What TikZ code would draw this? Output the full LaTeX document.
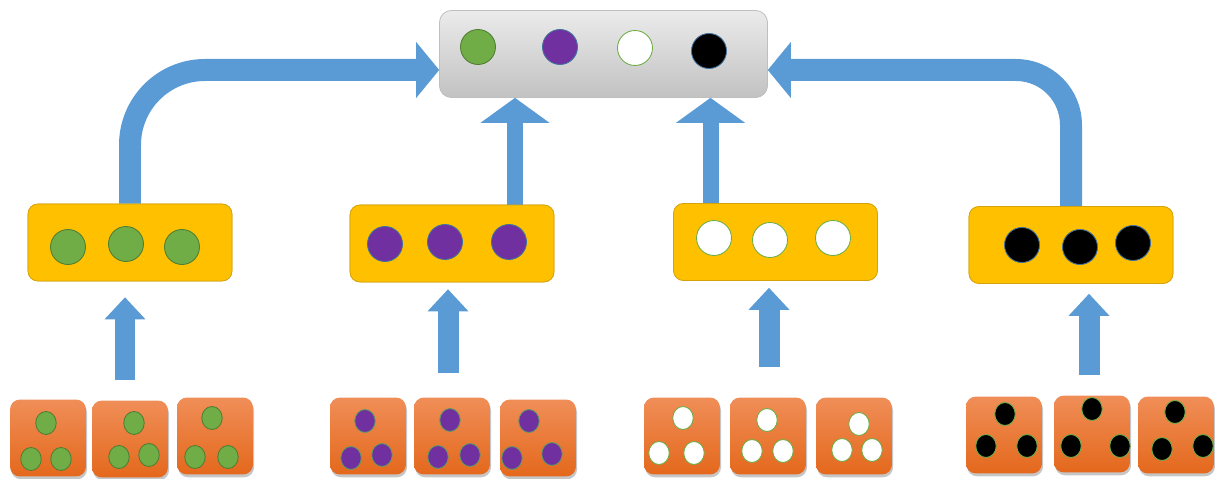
\documentclass[tikz,border=0pt]{standalone}
\usepackage{xcolor}
\usetikzlibrary{calc,arrows.meta,shapes.geometric,shadows}

\definecolor{arrowblue}{HTML}{5B9BD5}
\definecolor{boxyellow}{HTML}{FFC000}
\definecolor{yellowedge}{HTML}{D4A20B}
\definecolor{dotgreen}{HTML}{70AD47}
\definecolor{greenedge}{HTML}{507E32}
\definecolor{dotpurple}{HTML}{7030A0}
\definecolor{blueedge}{HTML}{41719C}
\definecolor{tiletop}{RGB}{240,142,88}
\definecolor{tilebot}{RGB}{228,104,28}
\definecolor{hubtop}{HTML}{EBEBEB}
\definecolor{hubbot}{HTML}{C2C2C2}
\definecolor{hubedge}{HTML}{BFBFBF}

\begin{document}
\begin{tikzpicture}[x = 0.02cm, y = -0.02cm,
hub/.style = {draw = hubedge, top color = hubtop, bottom color = hubbot, rounded corners = 0.24cm, minimum width = 6.56cm, minimum height = 1.74cm, inner sep = 0pt},
bar/.style = {draw = yellowedge, fill = boxyellow, rounded corners = 0.2cm, minimum width = 4.08cm, minimum height = 1.54cm, inner sep = 0pt},
tile/.style = {top color = tiletop, bottom color = tilebot, rounded corners = 0.2cm, minimum width = 1.52cm, minimum height = 1.54cm, inner sep = 0pt, drop shadow = {shadow xshift = 0.6pt, shadow yshift = -1.6pt, opacity = 0.45}},
ball/.style = {circle, minimum size = 0.7cm, inner sep = 0pt, line width = 0.5pt},
pip/.style = {ellipse, minimum width = 0.41cm, minimum height = 0.46cm, inner sep = 0pt, line width = 0.5pt},
feed/.style = {arrowblue, line width = 0.42cm, -{Triangle[length = 0.44cm, width = 0.82cm, line width = 0pt]}},
lift/.style = {arrowblue, line width = 0.32cm, -{Triangle[length = 0.5cm, width = 1.38cm, line width = 0pt]}},
sweep/.style = {arrowblue, line width = 0.44cm, -{Triangle[length = 0.46cm, width = 1.12cm, line width = 0pt]}}
]
\useasboundingbox (0,0) rectangle (1215,479);

% arrows first, boxes on top
\node[hub] (hub) at (603.5,54) {};
\node[bar] (g1) at (130,242.5) {};
\node[bar] (g2) at (452,243.5) {};
\node[bar] (g3) at (775.5,242) {};
\node[bar] (g4) at (1071,245) {};

\draw[sweep, rounded corners = 1.5cm] (g1.north) |- (hub.west |- 0,70);
\draw[sweep, rounded corners = 1.1cm] (g4.north) |- (hub.east |- 0,70);
\coordinate (l2) at ($(g2.north)+(63,0)$);
\coordinate (l3) at ($(g3.north)+(-65,0)$);
\foreach \l in {l2, l3}{\draw[lift] (\l) -- (\l |- hub.south);}

\node[hub] at (hub) {};
\foreach \n/\x/\y/\c/\e in {hg/478/47/dotgreen/greenedge, hp/560/47/dotpurple/blueedge, hw/635/48/white/dotgreen, hk/709/51/black/blueedge}{\node[ball, fill = \c, draw = \e] (\n) at (\x,\y) {};}

\foreach \g in {g1, g2, g3, g4}{\node[bar] at (\g) {};}
\foreach \n/\x/\y in {g1a/68/247, g1b/126/244, g1c/182/247}{\node[ball, fill = dotgreen, draw = greenedge] (\n) at (\x,\y) {};}
\foreach \n/\x/\y in {g2a/385/244, g2b/445/242, g2c/509/242}{\node[ball, fill = dotpurple, draw = blueedge] (\n) at (\x,\y) {};}
\foreach \n/\x/\y in {g3a/714/238, g3b/770/240, g3c/833/238}{\node[ball, fill = white, draw = dotgreen] (\n) at (\x,\y) {};}
\foreach \n/\x/\y in {g4a/1022/245, g4b/1080/247, g4c/1133/243}{\node[ball, fill = black, draw = blueedge] (\n) at (\x,\y) {};}

\foreach \n/\x/\y in {gt1/48/438, gt2/130/439, gt3/215/436, pt1/368/436, pt2/452/436, pt3/538/438, wt1/682/436, wt2/768/436, wt3/854/436, kt1/1004/435, kt2/1092/434, kt3/1176/435}{\node[tile] (\n) at (\x,\y) {};}

\foreach \x/\y [count = \i] in {46/423, 31/459, 61/459, 134/423, 119/457, 149/455, 212/418, 195/457, 228/457}{\node[pip, fill = dotgreen, draw = greenedge] (gp\i) at (\x,\y) {};}
\foreach \x/\y [count = \i] in {365/421, 351/458, 382/455, 450/420, 438/457, 470/455, 529/421, 512/458, 552/454}{\node[pip, fill = dotpurple, draw = dotgreen!70!blueedge] (pp\i) at (\x,\y) {};}
\foreach \x/\y [count = \i] in {683/418, 659/453, 694/453, 767/420, 752/451, 783/451, 859/424, 842/450, 872/450}{\node[pip, fill = white, draw = dotgreen] (wp\i) at (\x,\y) {};}
\foreach \x/\y [count = \i] in {1005/414, 986/446, 1027/446, 1092/409, 1071/446, 1120/446, 1175/412, 1162/449, 1203/446}{\node[pip, fill = black, draw = dotgreen] (kp\i) at (\x,\y) {};}

\foreach \t/\g/\dx/\s/\e in {gt2/g1/-5/20/16, pt2/g2/-4/24/7, wt2/g3/1/30/7, kt2/g4/-3/20/10}{
\coordinate (f\g) at ($(\t.north)+(\dx,-\s)$);
\draw[feed] (f\g) -- ($(f\g |- \g.south)+(0,\e)$);}
\end{tikzpicture}
\end{document}
